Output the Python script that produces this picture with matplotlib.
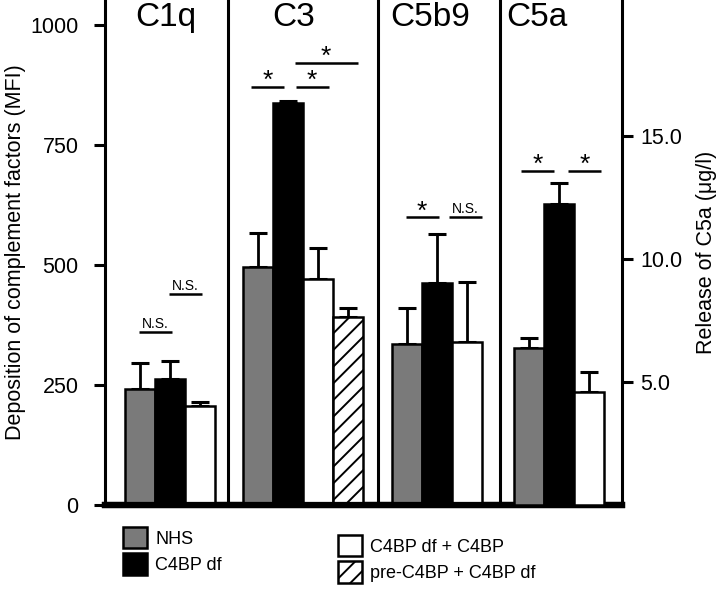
import matplotlib
matplotlib.use('Agg')
import matplotlib.pyplot as plt
from matplotlib.patches import Patch

plt.rcParams['font.family'] = ['Liberation Sans', 'DejaVu Sans']
plt.rcParams['hatch.linewidth'] = 1.4

panels = ['C1q', 'C3', 'C5b9', 'C5a']
series = ['NHS', 'C4BP df', 'C4BP df + C4BP', 'pre-C4BP + C4BP df']

# deposition (MFI) for C1q, C3, C5b9
nhs_mfi = [242, 496, 335]
nhs_err = [54, 71, 75]
df_mfi = [262, 837, 462]
df_err = [38, 5, 103]
rescue_mfi = [206, 471, 340]
rescue_err = [8, 64, 125]
pre_mfi = [392]   # C3 only
pre_err = [18]

# release of C5a (ug/l): NHS, C4BP df, C4BP df + C4BP
c5a_vals = [6.4, 12.25, 4.6]
c5a_err = [0.4, 0.85, 0.8]

# significance marks: (panel, bar i, bar j, label, height, shift)
marks = [
    (0, 0, 1, 'N.S.', 360, 0.0),
    (0, 1, 2, 'N.S.', 440, 0.0),
    (1, 0, 1, '*', 871, -0.17),
    (1, 1, 2, '*', 871, 0.3),
    (1, 1, 3, '*', 921, 0.27),
    (2, 0, 1, '*', 600, 0.0),
    (2, 1, 2, 'N.S.', 600, 0.45),
    (3, 0, 1, '*', 13.58, -0.2),
    (3, 1, 2, '*', 13.58, 0.35),
]

colors = ['#7a7a7a', 'black', 'white', 'white']
hatches = [None, None, None, '//']

group_left = [0.67, 4.6, 9.57, 13.63]
separators = [4.1, 9.1, 13.17]
title_x = [2.03, 6.27, 10.83, 14.4]
x_right = 17.23


def bar_x(panel, i):
    return group_left[panel] + i + 0.5


def draw_bars(ax, panel, values, errors):
    for i, (v, e) in enumerate(zip(values, errors)):
        ax.bar(bar_x(panel, i), v, width=1.0, color=colors[i], hatch=hatches[i],
               edgecolor='black', linewidth=1.8, zorder=3)
        ax.errorbar(bar_x(panel, i), v, yerr=[[0], [e]], fmt='none', ecolor='black',
                    elinewidth=2, capsize=6.5, capthick=2.2, zorder=2)


fig = plt.figure(figsize=(7.2, 5.96), dpi=100)
ax = fig.add_axes([105 / 720, 91 / 596, 517 / 720, 505 / 596])
ax2 = ax.twinx()

for p in range(3):
    vals = [nhs_mfi[p], df_mfi[p], rescue_mfi[p]]
    errs = [nhs_err[p], df_err[p], rescue_err[p]]
    if p == 1:
        vals.append(pre_mfi[0])
        errs.append(pre_err[0])
    draw_bars(ax, p, vals, errs)
draw_bars(ax2, 3, c5a_vals, c5a_err)

ax.set_xlim(0, x_right)
ax.set_ylim(0, 1052)
ax2.set_ylim(0, 20.53)
ax.set_xticks([])

for s in separators:
    ax.axvline(s, color='black', linewidth=2.2, zorder=4)

for a in (ax, ax2):
    a.spines['top'].set_visible(False)
    a.spines['bottom'].set_linewidth(4.5)
    a.spines['left'].set_linewidth(2.2)
    a.spines['right'].set_linewidth(2.2)
ax.spines['right'].set_visible(False)
ax2.spines['left'].set_visible(False)

ax.set_yticks([0, 250, 500, 750, 1000])
ax.tick_params(axis='y', direction='out', length=8, width=2.2, labelsize=15.5, pad=11)
ax2.set_yticks([5, 10, 15])
ax2.set_yticklabels(['5.0', '10.0', '15.0'])
ax2.tick_params(axis='y', direction='out', length=8, width=2.2, labelsize=15.5, pad=5)

ax.set_ylabel('Deposition of complement factors (MFI)', fontsize=15.5, labelpad=3)
ax2.set_ylabel('Release of C5a (\u03bcg/l)', fontsize=15.5, labelpad=10)

for name, c in zip(panels, title_x):
    ax.text(c, 0.966, name, transform=ax.get_xaxis_transform(), ha='center',
            va='center', fontsize=24)

for p, i, j, label, h, shift in marks:
    target = ax2 if p == 3 else ax
    mid = (bar_x(p, i) + bar_x(p, j)) / 2 + shift
    half = ((j - i) + 0.1) / 2
    target.plot([mid - half, mid + half], [h, h], color='black', linewidth=1.8,
                solid_capstyle='butt', zorder=5)
    if label == '*':
        target.annotate(label, (mid, h), xytext=(0, -1), textcoords='offset points',
                        ha='center', va='baseline', fontsize=19)
    else:
        target.annotate(label, (mid, h), xytext=(0, 3), textcoords='offset points',
                        ha='center', va='baseline', fontsize=10)

handles = [Patch(facecolor=colors[k], edgecolor='black', hatch=hatches[k], linewidth=1.8)
           for k in range(4)]
leg_kw = dict(frameon=False, fontsize=13, handlelength=1.33, handleheight=1.45,
              handletextpad=0.45, labelspacing=0.28, borderpad=0, borderaxespad=0)
fig.legend(handles[:2], series[:2], loc='upper left',
           bbox_to_anchor=(123 / 720, 69 / 596), **leg_kw)
fig.legend(handles[2:], series[2:], loc='upper left',
           bbox_to_anchor=(338 / 720, 61 / 596), **leg_kw)

fig.savefig('out.png', dpi=100)
